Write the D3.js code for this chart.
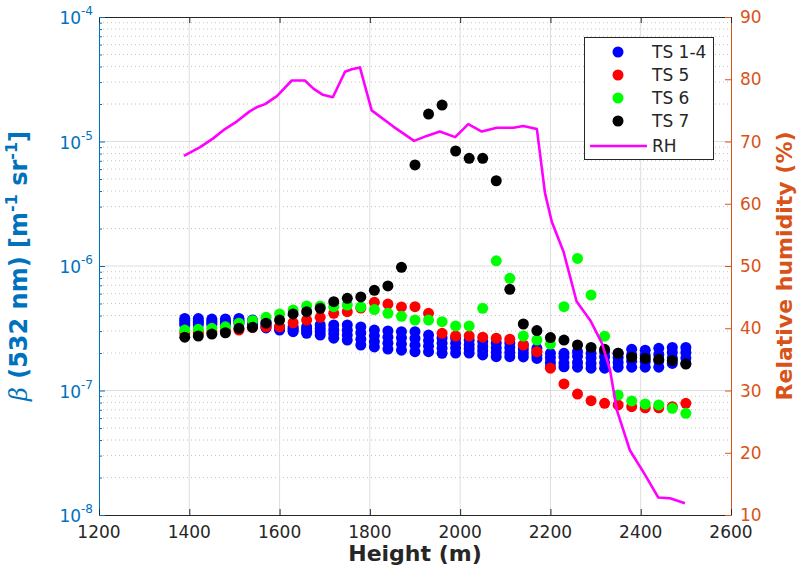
<!DOCTYPE html>
<html>
<head>
<meta charset="utf-8">
<script src="https://cdn.jsdelivr.net/npm/d3@7"></script>
<style>
  html, body { margin: 0; padding: 0; background: #fff; }
  svg { display: block; font-family: "DejaVu Sans", sans-serif; }
</style>
</head>
<body>
<svg id="chart" width="798" height="573"></svg>
<script>
// Measurement heights (m) shared by all backscatter profiles
const heights = [1390, 1420, 1450, 1480, 1510, 1540, 1570, 1600, 1630, 1660,
  1690, 1720, 1750, 1780, 1810, 1840, 1870, 1900, 1930, 1960,
  1990, 2020, 2050, 2080, 2110, 2140, 2170, 2200, 2230, 2260,
  2290, 2320, 2350, 2380, 2410, 2440, 2470, 2500];

// Backscatter coefficient at 532 nm (m^-1 sr^-1), time steps 1-4
const ts1 = [3.79e-7, 3.78e-7, 3.75e-7, 3.76e-7, 3.79e-7, 3.68e-7, 3.55e-7, 3.25e-7, 3.25e-7, 3.25e-7,
  3.36e-7, 3.36e-7, 3.36e-7, 3.24e-7, 3.06e-7, 3.01e-7, 2.97e-7, 2.97e-7, 2.79e-7, 2.64e-7,
  2.64e-7, 2.54e-7, 2.47e-7, 2.41e-7, 2.41e-7, 2.32e-7, 2.18e-7, 1.99e-7, 1.99e-7, 2.05e-7,
  1.99e-7, 2.05e-7, 1.99e-7, 2.14e-7, 2.11e-7, 2.18e-7, 2.22e-7, 2.22e-7];
const ts2 = [3.65e-7, 3.62e-7, 3.62e-7, 3.63e-7, 3.67e-7, 3.55e-7, 3.42e-7, 3.18e-7, 3.15e-7, 3.12e-7,
  3.15e-7, 3.08e-7, 3.05e-7, 2.90e-7, 2.75e-7, 2.68e-7, 2.65e-7, 2.62e-7, 2.52e-7, 2.40e-7,
  2.40e-7, 2.33e-7, 2.26e-7, 2.20e-7, 2.21e-7, 2.15e-7, 2.05e-7, 1.84e-7, 1.86e-7, 1.88e-7,
  1.83e-7, 1.86e-7, 1.84e-7, 1.93e-7, 1.91e-7, 1.95e-7, 2.02e-7, 2.02e-7];
const ts3 = [3.48e-7, 3.50e-7, 3.50e-7, 3.51e-7, 3.56e-7, 3.42e-7, 3.30e-7, 3.12e-7, 3.06e-7, 2.99e-7,
  2.97e-7, 2.85e-7, 2.79e-7, 2.58e-7, 2.47e-7, 2.40e-7, 2.36e-7, 2.31e-7, 2.27e-7, 2.18e-7,
  2.19e-7, 2.16e-7, 2.09e-7, 2.03e-7, 2.02e-7, 2.00e-7, 1.93e-7, 1.68e-7, 1.66e-7, 1.68e-7,
  1.65e-7, 1.67e-7, 1.68e-7, 1.72e-7, 1.71e-7, 1.73e-7, 1.82e-7, 1.82e-7];
const ts4 = [3.36e-7, 3.37e-7, 3.39e-7, 3.40e-7, 3.45e-7, 3.30e-7, 3.18e-7, 3.06e-7, 2.97e-7, 2.88e-7,
  2.79e-7, 2.63e-7, 2.54e-7, 2.32e-7, 2.24e-7, 2.15e-7, 2.11e-7, 2.05e-7, 2.05e-7, 1.99e-7,
  2.00e-7, 2.00e-7, 1.93e-7, 1.87e-7, 1.87e-7, 1.86e-7, 1.81e-7, 1.55e-7, 1.55e-7, 1.54e-7,
  1.51e-7, 1.51e-7, 1.54e-7, 1.54e-7, 1.54e-7, 1.54e-7, 1.65e-7, 1.65e-7];
// Time step 5
const ts5 = [2.90e-7, 2.91e-7, 2.97e-7, 3.06e-7, 3.06e-7, 3.21e-7, 3.25e-7, 3.25e-7, 3.50e-7, 3.68e-7,
  3.87e-7, 4.17e-7, 4.30e-7, 4.60e-7, 5.11e-7, 4.95e-7, 4.69e-7, 4.71e-7, 4.17e-7, 2.88e-7,
  2.74e-7, 2.74e-7, 2.68e-7, 2.63e-7, 2.58e-7, 2.32e-7, 2.05e-7, 1.51e-7, 1.13e-7, 9.37e-8,
  8.28e-8, 7.89e-8, 7.65e-8, 7.41e-8, 7.27e-8, 7.27e-8, 7.41e-8, 7.89e-8];
// Time step 6
const ts6 = [3.06e-7, 3.10e-7, 3.16e-7, 3.25e-7, 3.47e-7, 3.64e-7, 3.87e-7, 4.12e-7, 4.43e-7, 4.77e-7,
  4.77e-7, 4.71e-7, 4.86e-7, 4.69e-7, 4.47e-7, 4.17e-7, 3.94e-7, 3.68e-7, 3.68e-7, 3.57e-7,
  3.30e-7, 3.30e-7, 4.57e-7, 1.10e-6, 7.96e-7, 2.74e-7, 2.54e-7, 2.36e-7, 4.71e-7, 1.15e-6,
  5.85e-7, 2.73e-7, 9.20e-8, 8.24e-8, 7.79e-8, 7.65e-8, 7.19e-8, 6.56e-8];
// Time step 7
const ts7 = [2.68e-7, 2.74e-7, 2.84e-7, 2.91e-7, 3.16e-7, 3.22e-7, 3.47e-7, 3.68e-7, 4.12e-7, 4.30e-7,
  4.57e-7, 5.17e-7, 5.50e-7, 5.64e-7, 6.38e-7, 6.91e-7, 9.76e-7, 6.48e-6, 1.66e-5, 1.96e-5,
  8.39e-6, 7.33e-6, 7.33e-6, 4.84e-6, 6.50e-7, 3.42e-7, 3.03e-7, 2.66e-7, 2.54e-7, 2.32e-7,
  2.22e-7, 2.14e-7, 1.99e-7, 1.85e-7, 1.81e-7, 1.78e-7, 1.74e-7, 1.63e-7];

// Radiosonde relative humidity profile
const rhHeights = [1388, 1424, 1453, 1479, 1505, 1533, 1549, 1568, 1594, 1627,
  1656, 1675, 1696, 1718, 1745, 1760, 1778, 1804, 1852, 1898,
  1926, 1955, 1989, 2018, 2048, 2081, 2118, 2140, 2170, 2188,
  2203, 2229, 2258, 2288, 2314, 2332, 2347, 2376, 2410, 2439,
  2465, 2498];
const rhValues = [67.7, 69.1, 70.5, 72.0, 73.2, 74.8, 75.5, 76.0, 77.3, 79.8,
  79.8, 78.5, 77.5, 77.1, 81.2, 81.6, 81.9, 75.0, 72.4, 70.1,
  70.9, 71.6, 70.7, 72.8, 71.6, 72.2, 72.2, 72.5, 72.0, 61.7,
  57.1, 52.3, 44.3, 41.3, 37.6, 33.3, 26.9, 20.4, 16.4, 12.8,
  12.7, 11.9];

// Axis ticks
const xTicks = [1200, 1400, 1600, 1800, 2000, 2200, 2400, 2600];
const yExponents = [-8, -7, -6, -5, -4];
const rhTicks = [10, 20, 30, 40, 50, 60, 70, 80, 90];

// Legend entries (scatter series drawn in this order)
const scatterSeries = [
  { name: "TS 1-4", color: "#0000ff", data: [ts1, ts2, ts3, ts4] },
  { name: "TS 5", color: "#ff0000", data: [ts5] },
  { name: "TS 6", color: "#00ff00", data: [ts6] },
  { name: "TS 7", color: "#000000", data: [ts7] }
];

const svg = d3.select("#chart");
const plot = { left: 99, right: 731, top: 17, bottom: 515 };
const leftColor = "#0072bd", rightColor = "#d95319", axisColor = "#262626";
const markerR = 5.5;

const x = d3.scaleLinear().domain([1200, 2600]).range([plot.left, plot.right]);
const y = d3.scaleLog().domain([1e-8, 1e-4]).range([plot.bottom, plot.top]);
const yR = d3.scaleLinear().domain([10, 90]).range([plot.bottom, plot.top]);

// Grid: minor log lines dotted, major lines solid
const grid = svg.append("g");
const minorVals = [];
for (let e = -8; e < -4; e++) for (let m = 2; m <= 9; m++) minorVals.push(m * Math.pow(10, e));
grid.selectAll("line.minor").data(minorVals).join("line")
  .attr("x1", plot.left).attr("x2", plot.right)
  .attr("y1", d => y(d)).attr("y2", d => y(d))
  .attr("stroke", "#c4c4c4").attr("stroke-width", 1).attr("stroke-dasharray", "1,3");
grid.selectAll("line.hmaj").data(yExponents.slice(1, -1)).join("line")
  .attr("x1", plot.left).attr("x2", plot.right)
  .attr("y1", d => y(Math.pow(10, d))).attr("y2", d => y(Math.pow(10, d)))
  .attr("stroke", "#dedede").attr("stroke-width", 1);
grid.selectAll("line.vmaj").data(xTicks.slice(1, -1)).join("line")
  .attr("x1", d => x(d)).attr("x2", d => x(d))
  .attr("y1", plot.top).attr("y2", plot.bottom)
  .attr("stroke", "#dedede").attr("stroke-width", 1);

// Scatter markers
const marks = svg.append("g");
scatterSeries.forEach(s => {
  s.data.forEach(vals => {
    marks.append("g").selectAll("circle").data(vals).join("circle")
      .attr("cx", (d, i) => x(heights[i]))
      .attr("cy", d => y(d))
      .attr("r", markerR)
      .attr("fill", s.color);
  });
});

// Relative humidity line on the right axis
const rhLine = d3.line().x((d, i) => x(rhHeights[i])).y(d => yR(d));
svg.append("path").datum(rhValues)
  .attr("d", rhLine)
  .attr("fill", "none").attr("stroke", "#ff00ff").attr("stroke-width", 2.6)
  .attr("stroke-linejoin", "round");

// Axes frame
const frame = svg.append("g");
frame.append("line").attr("x1", plot.left).attr("x2", plot.right).attr("y1", plot.bottom + 0.5).attr("y2", plot.bottom + 0.5)
  .attr("stroke", axisColor);
frame.append("line").attr("x1", plot.left).attr("x2", plot.right).attr("y1", plot.top + 0.5).attr("y2", plot.top + 0.5)
  .attr("stroke", axisColor);
frame.append("line").attr("x1", plot.left + 0.5).attr("x2", plot.left + 0.5).attr("y1", plot.top).attr("y2", plot.bottom + 1)
  .attr("stroke", leftColor);
frame.append("line").attr("x1", plot.right + 0.5).attr("x2", plot.right + 0.5).attr("y1", plot.top).attr("y2", plot.bottom + 1)
  .attr("stroke", rightColor);

// X ticks (inward, bottom and top) and labels
xTicks.forEach(t => {
  frame.append("line").attr("x1", x(t) + 0.5).attr("x2", x(t) + 0.5)
    .attr("y1", plot.bottom).attr("y2", plot.bottom - 6).attr("stroke", axisColor);
  frame.append("line").attr("x1", x(t) + 0.5).attr("x2", x(t) + 0.5)
    .attr("y1", plot.top).attr("y2", plot.top + 6).attr("stroke", axisColor);
});
svg.append("g").selectAll("text").data(xTicks).join("text")
  .attr("x", d => x(d)).attr("y", plot.bottom + 23)
  .attr("text-anchor", "middle").attr("font-size", 17).attr("fill", axisColor)
  .text(d => d);

// Left log ticks and labels
yExponents.forEach(e => {
  const yy = y(Math.pow(10, e));
  frame.append("line").attr("x1", plot.left).attr("x2", plot.left + 6)
    .attr("y1", yy + 0.5).attr("y2", yy + 0.5).attr("stroke", leftColor);
});
minorVals.forEach(v => {
  frame.append("line").attr("x1", plot.left).attr("x2", plot.left + 3)
    .attr("y1", y(v) + 0.5).attr("y2", y(v) + 0.5).attr("stroke", leftColor);
});
const yl = svg.append("g").selectAll("text").data(yExponents).join("text")
  .attr("x", 93).attr("y", d => y(Math.pow(10, d)) + 7)
  .attr("text-anchor", "end").attr("font-size", 17).attr("fill", leftColor);
yl.append("tspan").text("10");
yl.append("tspan").attr("dy", -9).attr("font-size", 12).text(d => d);

// Right ticks and labels
rhTicks.forEach(t => {
  frame.append("line").attr("x1", plot.right).attr("x2", plot.right - 6)
    .attr("y1", yR(t) + 0.5).attr("y2", yR(t) + 0.5).attr("stroke", rightColor);
});
svg.append("g").selectAll("text").data(rhTicks).join("text")
  .attr("x", plot.right + 9).attr("y", d => yR(d) + 6)
  .attr("font-size", 17).attr("fill", rightColor)
  .text(d => d);

// Axis titles
svg.append("text").attr("x", (plot.left + plot.right) / 2).attr("y", 561)
  .attr("text-anchor", "middle").attr("font-size", 22).attr("font-weight", "bold")
  .attr("fill", axisColor).text("Height (m)");

const lt = svg.append("text")
  .attr("transform", `translate(27,${(plot.top + plot.bottom) / 2}) rotate(-90)`)
  .attr("text-anchor", "middle").attr("font-size", 24).attr("font-weight", "bold").attr("fill", leftColor);
lt.append("tspan").attr("font-family", "DejaVu Serif").attr("font-style", "italic").attr("font-weight", "normal").text("β");
lt.append("tspan").text(" (532 nm) [m");
lt.append("tspan").attr("dy", -10).attr("font-size", 16).text("-1");
lt.append("tspan").attr("dy", 10).text(" sr");
lt.append("tspan").attr("dy", -10).attr("font-size", 16).text("-1");
lt.append("tspan").attr("dy", 10).text("]");

svg.append("text")
  .attr("transform", `translate(792,${(plot.top + plot.bottom) / 2}) rotate(-90)`)
  .attr("text-anchor", "middle").attr("font-size", 22).attr("font-weight", "bold").attr("fill", rightColor)
  .text("Relative humidity (%)");

// Legend
const lg = svg.append("g");
lg.append("rect").attr("x", 584.5).attr("y", 37.5).attr("width", 129).attr("height", 122)
  .attr("fill", "#fff").attr("stroke", axisColor).attr("stroke-width", 1);
const rowY = [52, 75, 98, 121, 146];
scatterSeries.forEach((s, i) => {
  lg.append("circle").attr("cx", 618).attr("cy", rowY[i]).attr("r", markerR).attr("fill", s.color);
  lg.append("text").attr("x", 652).attr("y", rowY[i] + 6).attr("font-size", 17).attr("fill", axisColor).text(s.name);
});
lg.append("line").attr("x1", 590).attr("x2", 647).attr("y1", rowY[4]).attr("y2", rowY[4])
  .attr("stroke", "#ff00ff").attr("stroke-width", 2.6);
lg.append("text").attr("x", 652).attr("y", rowY[4] + 6).attr("font-size", 17).attr("fill", axisColor).text("RH");
</script>
</body>
</html>
